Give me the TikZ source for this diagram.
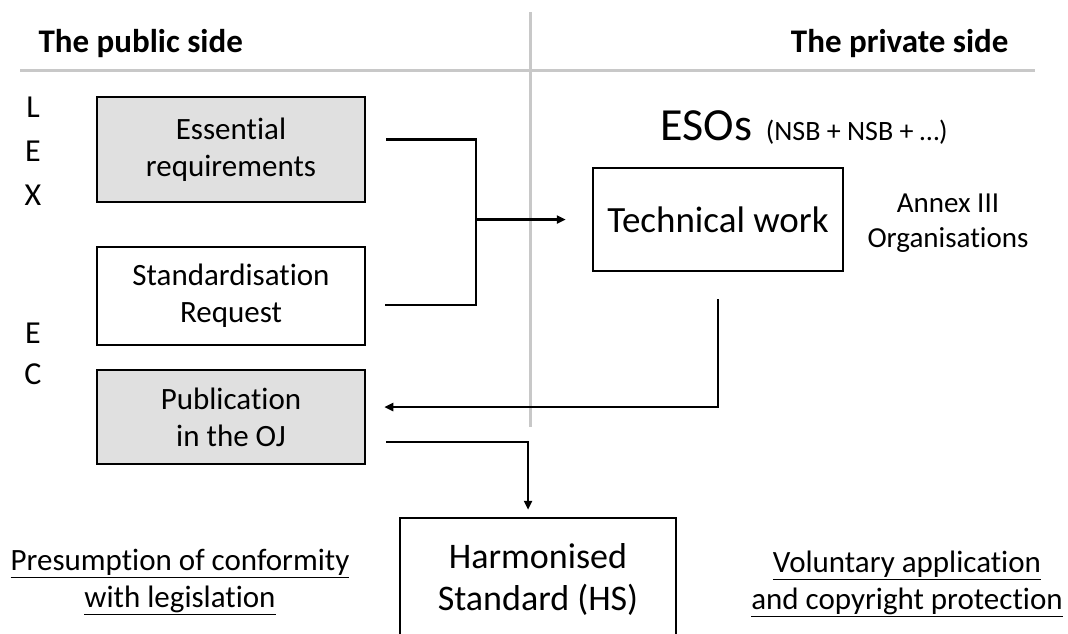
\documentclass[tikz,border=0pt]{standalone}
\usepackage{xcolor}
\usepackage{fontspec}
\setmainfont[Ligatures={NoCommon}]{Carlito}
\usepackage{tikz}
\usetikzlibrary{arrows.meta, positioning, calc}

\definecolor{boxgrey}{RGB}{224,224,224}
\definecolor{dividergrey}{RGB}{200,200,200}

\begin{document}
\begin{tikzpicture}[
      x=1pt, y=-1pt,
      box/.style={rectangle, draw, line width=2.5pt, minimum width=268pt, inner sep=0pt, align=center, font=\fontsize{31}{37}\selectfont},
      greybox/.style={box, fill=boxgrey},
      header/.style={font=\fontsize{33}{38}\selectfont\bfseries},
      letter/.style={font=\fontsize{32}{36}\selectfont},
      note/.style={align=center, font=\fontsize{31}{37}\selectfont},
      line/.style={line width=2.5pt},
      arrow/.style={line, -{Triangle[length=9pt, width=8pt]}},
      divider/.style={draw=dividergrey, line width=3pt}
  ]
  \useasboundingbox (0,0) rectangle (1068,633);

  % Dividers
  \draw[divider] (20,70) -- (1035,70);
  \draw[divider] (530,12) -- (530,427);

  % Headers
  \node[header, anchor=base west] (public) at (35,52) {The public side};
  \node[header, anchor=base east] (private) at (1012,52) {The private side};

  % LEX / EC
  \node[letter] (lex-l) at (33,107.5) {L};
  \node[letter] (lex-e) at (33,151) {E};
  \node[letter] (lex-x) at (33,195) {X};
  \node[letter] (ec-e) at (33,333) {E};
  \node[letter] (ec-c) at (33,374) {C};

  % Public side boxes
  \node[greybox, minimum height=105pt] (essential) at (231,149.5) {Essential\\requirements};
  \node[box, minimum height=98pt] (request) at (231,296) {Standardisation\\Request};
  \node[greybox, minimum height=94pt] (publication) at (231,417) {Publication\\in the OJ};

  % Private side
  \node[anchor=base west, font=\fontsize{46}{50}\selectfont] (esos) at (657,140) {ESOs};
  \node[base right=10pt of esos, font=\fontsize{28}{34}\selectfont, inner sep=0pt] (nsb) {(NSB + NSB + …)};
  \node[box, minimum width=250pt, minimum height=103pt, font=\fontsize{37}{44}\selectfont] (technical) at (718,219.5) {Technical work};
  \node[note, font=\fontsize{29}{35}\selectfont] (annex) at (948,223) {Annex III\\Organisations};

  % Result
  \node[box, minimum width=276pt, minimum height=122pt, font=\fontsize{36}{42}\selectfont] (harmonised) at (538,579) {Harmonised\\Standard (HS)};
  \node[note] (presumption) at (180,582) {\underline{Presumption of conformity}\\\underline{with legislation}};
  \node[note] (voluntary) at (907,584) {\underline{Voluntary application}\\\underline{and copyright protection}};

  % Connectors
  \coordinate (merge) at (476,219.5);
  \draw[line] ([shift={(20,-10)}]essential.east) -| (merge) |- ([shift={(19,9)}]request.east);
  \draw[arrow] (merge) -- ([shift={(-26,0)}]technical.west);
  \draw[arrow] ([shift={(0,27)}]technical.south) |- ([shift={(18,-10)}]publication.east);
  \draw[arrow] ([shift={(20,25)}]publication.east) -| ([shift={(-10,-7)}]harmonised.north);

\end{tikzpicture}
\end{document}
